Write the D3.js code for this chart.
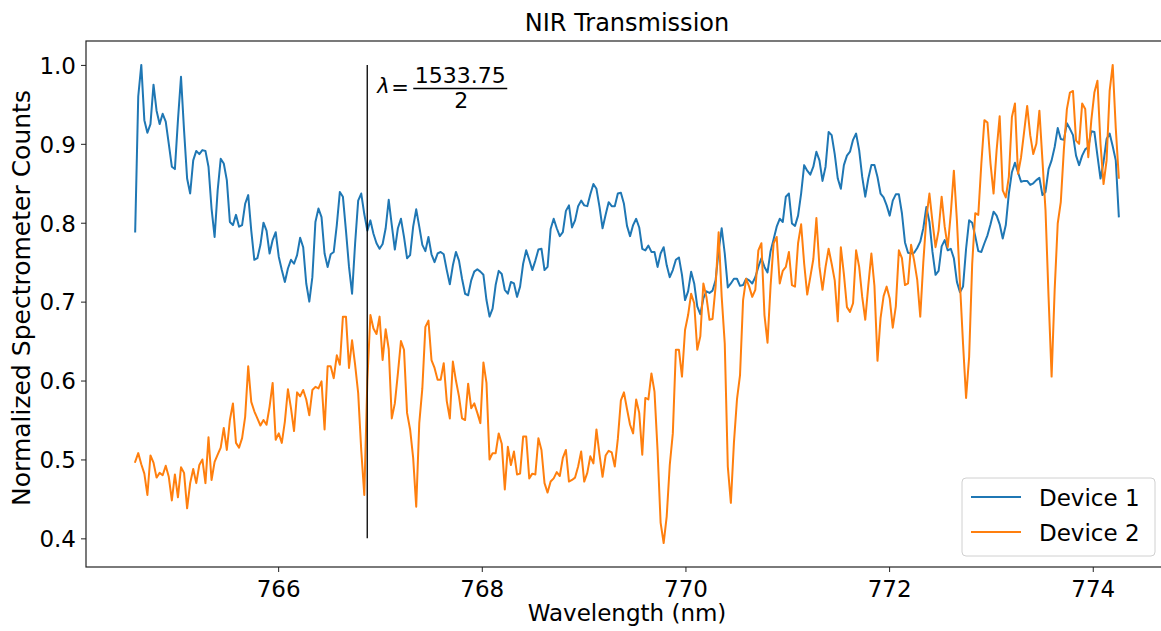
<!DOCTYPE html>
<html>
<head>
<meta charset="utf-8">
<script src="https://cdn.jsdelivr.net/npm/d3@7"></script>
<style>
  html, body { margin: 0; padding: 0; background: #fff; }
  svg { display: block; }
  text { font-family: "DejaVu Sans", sans-serif; fill: #000; }
</style>
</head>
<body>
<svg id="chart" width="1161" height="631"></svg>
<script>
// Spectrometer grid (nm): first pixel and pixel pitch
const wlStart = 764.596;
const wlStep = 0.03;

// Normalized counts, one value per spectrometer pixel
const device1 = [
  0.789,0.960,1.000,0.930,0.914,0.925,0.975,0.942,0.925,0.938,
  0.928,0.900,0.871,0.868,0.930,0.985,0.917,0.856,0.837,0.879,
  0.891,0.887,0.892,0.891,0.871,0.818,0.782,0.841,0.881,0.875,
  0.854,0.801,0.797,0.810,0.795,0.797,0.824,0.835,0.790,0.753,
  0.755,0.772,0.800,0.790,0.761,0.778,0.788,0.757,0.740,0.725,
  0.742,0.753,0.748,0.759,0.781,0.769,0.723,0.700,0.731,0.801,
  0.818,0.807,0.761,0.744,0.760,0.763,0.797,0.839,0.833,0.790,
  0.744,0.710,0.774,0.828,0.837,0.811,0.790,0.803,0.786,0.774,
  0.767,0.773,0.793,0.829,0.797,0.766,0.793,0.805,0.782,0.755,
  0.759,0.795,0.817,0.795,0.772,0.764,0.782,0.760,0.750,0.761,
  0.763,0.760,0.740,0.722,0.746,0.763,0.752,0.729,0.710,0.708,
  0.727,0.738,0.741,0.738,0.734,0.702,0.681,0.691,0.721,0.739,
  0.735,0.715,0.710,0.725,0.723,0.706,0.719,0.748,0.765,0.753,
  0.740,0.752,0.766,0.767,0.740,0.744,0.792,0.805,0.793,0.783,
  0.788,0.815,0.822,0.794,0.803,0.821,0.828,0.822,0.821,0.836,
  0.849,0.843,0.820,0.793,0.810,0.826,0.821,0.821,0.837,0.838,
  0.824,0.796,0.783,0.797,0.805,0.794,0.767,0.765,0.771,0.763,
  0.763,0.744,0.761,0.769,0.746,0.731,0.740,0.753,0.756,0.734,
  0.702,0.713,0.738,0.723,0.694,0.684,0.704,0.713,0.711,0.714,
  0.727,0.765,0.793,0.761,0.718,0.723,0.729,0.729,0.720,0.721,
  0.729,0.727,0.723,0.731,0.744,0.755,0.744,0.737,0.764,0.779,
  0.795,0.805,0.801,0.833,0.837,0.799,0.796,0.809,0.837,0.873,
  0.866,0.861,0.871,0.890,0.879,0.853,0.871,0.915,0.911,0.887,
  0.856,0.843,0.873,0.885,0.890,0.905,0.913,0.892,0.858,0.833,
  0.856,0.873,0.873,0.858,0.837,0.832,0.822,0.809,0.828,0.836,
  0.836,0.812,0.775,0.762,0.761,0.762,0.768,0.776,0.793,0.820,
  0.801,0.763,0.734,0.739,0.770,0.778,0.765,0.767,0.755,0.725,
  0.712,0.719,0.767,0.803,0.800,0.783,0.764,0.763,0.774,0.784,
  0.798,0.814,0.809,0.798,0.780,0.797,0.837,0.864,0.876,0.864,
  0.852,0.853,0.853,0.848,0.850,0.854,0.857,0.835,0.839,0.868,
  0.879,0.896,0.920,0.906,0.905,0.926,0.919,0.911,0.885,0.873,
  0.885,0.893,0.896,0.916,0.915,0.885,0.856,0.877,0.906,0.913,
  0.897,0.879,0.808
];

const device2 = [
  0.497,0.508,0.494,0.482,0.455,0.505,0.496,0.477,0.483,0.480,
  0.492,0.478,0.448,0.481,0.452,0.490,0.483,0.438,0.470,0.488,
  0.470,0.493,0.500,0.470,0.528,0.474,0.497,0.506,0.515,0.540,
  0.512,0.550,0.571,0.521,0.515,0.527,0.554,0.618,0.573,0.561,
  0.552,0.543,0.550,0.544,0.567,0.597,0.525,0.533,0.521,0.548,
  0.589,0.565,0.536,0.585,0.580,0.588,0.576,0.556,0.588,0.592,
  0.590,0.599,0.538,0.618,0.618,0.603,0.632,0.620,0.681,0.681,
  0.616,0.651,0.620,0.584,0.512,0.455,0.600,0.683,0.666,0.659,
  0.681,0.626,0.665,0.640,0.552,0.571,0.609,0.650,0.639,0.559,
  0.538,0.502,0.440,0.546,0.590,0.668,0.676,0.626,0.616,0.601,
  0.601,0.622,0.574,0.552,0.624,0.600,0.580,0.552,0.550,0.596,
  0.565,0.571,0.559,0.546,0.623,0.597,0.500,0.508,0.508,0.533,
  0.520,0.462,0.516,0.493,0.510,0.481,0.482,0.529,0.529,0.476,
  0.482,0.481,0.527,0.512,0.470,0.458,0.472,0.476,0.484,0.479,
  0.502,0.512,0.472,0.474,0.477,0.491,0.510,0.472,0.483,0.504,
  0.495,0.538,0.506,0.478,0.505,0.511,0.509,0.491,0.526,0.575,
  0.585,0.564,0.544,0.533,0.576,0.559,0.506,0.578,0.576,0.609,
  0.586,0.512,0.420,0.394,0.428,0.493,0.533,0.639,0.639,0.605,
  0.664,0.683,0.710,0.698,0.639,0.656,0.723,0.706,0.677,0.678,
  0.719,0.788,0.706,0.647,0.491,0.445,0.521,0.576,0.607,0.702,
  0.729,0.719,0.706,0.715,0.765,0.774,0.683,0.648,0.720,0.774,
  0.782,0.723,0.739,0.744,0.763,0.721,0.719,0.774,0.798,0.748,
  0.709,0.731,0.754,0.806,0.744,0.715,0.744,0.767,0.748,0.727,
  0.675,0.769,0.735,0.693,0.687,0.698,0.765,0.744,0.706,0.677,
  0.721,0.761,0.720,0.625,0.679,0.707,0.719,0.704,0.667,0.694,
  0.765,0.755,0.721,0.723,0.772,0.752,0.728,0.681,0.750,0.806,
  0.837,0.801,0.769,0.790,0.833,0.795,0.769,0.812,0.866,0.803,
  0.723,0.647,0.578,0.630,0.748,0.812,0.810,0.875,0.930,0.927,
  0.875,0.837,0.892,0.935,0.841,0.832,0.858,0.934,0.951,0.862,
  0.883,0.915,0.948,0.911,0.887,0.900,0.942,0.879,0.816,0.706,
  0.605,0.715,0.799,0.826,0.892,0.944,0.965,0.967,0.904,0.900,
  0.951,0.944,0.883,0.930,0.965,0.980,0.900,0.849,0.879,0.967,
  1.000,0.920,0.857
];

const seriesNames = ["Device 1", "Device 2"];
const seriesColors = ["#1f77b4", "#ff7f0e"];
const xTicks = [766, 768, 770, 772, 774];
const yTicks = [0.4, 0.5, 0.6, 0.7, 0.8, 0.9, 1.0];

// Half of the 1533.75 nm telecom line, marked with a vertical rule
const markerNumerator = 1533.75;
const markerDenominator = 2;
const markerSpan = [0.4, 1.0];

const wavelength = device1.map((_, i) => wlStart + wlStep * i);
const series = [device1, device2].map((vals, k) => ({
  name: seriesNames[k],
  color: seriesColors[k],
  points: vals.map((v, i) => [wavelength[i], v])
}));

const svg = d3.select("#chart");
const plot = { left: 86, right: 1168, top: 41, bottom: 567 };

// Axis limits padded by 5% of the data range on each side
const xExt = d3.extent(wavelength);
const xPad = (xExt[1] - xExt[0]) * 0.05;
const yExt = d3.extent(device1.concat(device2));
const yPad = (yExt[1] - yExt[0]) * 0.05;

const x = d3.scaleLinear().domain([xExt[0] - xPad, xExt[1] + xPad]).range([plot.left, plot.right]);
const y = d3.scaleLinear().domain([yExt[0] - yPad, yExt[1] + yPad]).range([plot.bottom, plot.top]);

svg.append("rect").attr("width", 1161).attr("height", 631).attr("fill", "#fff");

svg.append("defs").append("clipPath").attr("id", "plot-clip")
  .append("rect")
  .attr("x", plot.left).attr("y", plot.top)
  .attr("width", plot.right - plot.left).attr("height", plot.bottom - plot.top);

// Data lines
const line = d3.line().x(d => x(d[0])).y(d => y(d[1]));
const gLines = svg.append("g").attr("clip-path", "url(#plot-clip)");
series.forEach(s => {
  gLines.append("path")
    .datum(s.points)
    .attr("d", line)
    .attr("fill", "none")
    .attr("stroke", s.color)
    .attr("stroke-width", 2)
    .attr("stroke-linejoin", "round")
    .attr("stroke-linecap", "square");
});

// Marker line and its label
const markerX = markerNumerator / markerDenominator;
svg.append("line")
  .attr("x1", x(markerX)).attr("x2", x(markerX))
  .attr("y1", y(markerSpan[0])).attr("y2", y(markerSpan[1]))
  .attr("stroke", "#000").attr("stroke-width", 1.3);

const ann = svg.append("g").attr("transform", `translate(${x(markerX) + 10},${y(markerSpan[1])})`);
ann.append("text").attr("x", 0).attr("y", 28)
  .style("font-family", "'DejaVu Sans'").style("font-style", "italic")
  .style("font-size", "21px").text("λ");
ann.append("text").attr("x", 14).attr("y", 30)
  .style("font-size", "21px").text("=");
ann.append("text").attr("x", 83).attr("y", 18)
  .attr("text-anchor", "middle").style("font-size", "22px").text(d3.format(".2f")(markerNumerator));
ann.append("line").attr("x1", 36).attr("x2", 130).attr("y1", 23.6).attr("y2", 23.6)
  .attr("stroke", "#000").attr("stroke-width", 1.3);
ann.append("text").attr("x", 84).attr("y", 43)
  .attr("text-anchor", "middle").style("font-size", "22px").text(markerDenominator);

// Axes
const xAxis = d3.axisBottom(x).tickValues(xTicks).tickFormat(d3.format("d")).tickSize(5).tickPadding(4);
const yAxis = d3.axisLeft(y).tickValues(yTicks).tickFormat(d3.format(".1f")).tickSize(5).tickPadding(5);

const gx = svg.append("g").attr("transform", `translate(0,${plot.bottom})`).call(xAxis);
const gy = svg.append("g").attr("transform", `translate(${plot.left},0)`).call(yAxis);
[gx, gy].forEach(g => {
  g.select(".domain").remove();
  g.selectAll(".tick line").attr("stroke", "#222").attr("stroke-width", 1);
  g.selectAll(".tick text").style("font-family", "'DejaVu Sans'").style("font-size", "23px").attr("fill", "#000");
});
gx.selectAll(".tick text").attr("dy", "0.9em");
gy.selectAll(".tick text").attr("dy", "0.36em");

// Spines
svg.append("rect")
  .attr("x", plot.left).attr("y", plot.top)
  .attr("width", plot.right - plot.left).attr("height", plot.bottom - plot.top)
  .attr("fill", "none").attr("stroke", "#222").attr("stroke-width", 1.2);

// Titles
svg.append("text").attr("x", (plot.left + plot.right) / 2).attr("y", 31)
  .attr("text-anchor", "middle").style("font-size", "24px").text("NIR Transmission");
svg.append("text").attr("x", (plot.left + plot.right) / 2).attr("y", 621)
  .attr("text-anchor", "middle").style("font-size", "23px").text("Wavelength (nm)");
svg.append("text")
  .attr("transform", `translate(30,${(plot.top + plot.bottom) / 2 - 6}) rotate(-90)`)
  .attr("text-anchor", "middle").style("font-size", "25px").text("Normalized Spectrometer Counts");

// Legend
const lg = svg.append("g").attr("transform", "translate(962,478)");
lg.append("rect").attr("width", 193).attr("height", 78).attr("rx", 4)
  .attr("fill", "#fff").attr("fill-opacity", 0.8)
  .attr("stroke", "#d0d0d0").attr("stroke-width", 1);
series.forEach((s, k) => {
  const ly = 19 + k * 35;
  lg.append("line").attr("x1", 9).attr("x2", 59).attr("y1", ly).attr("y2", ly)
    .attr("stroke", s.color).attr("stroke-width", 2);
  lg.append("text").attr("x", 77).attr("y", ly + 8.5).style("font-size", "23px").text(s.name);
});
</script>
</body>
</html>
